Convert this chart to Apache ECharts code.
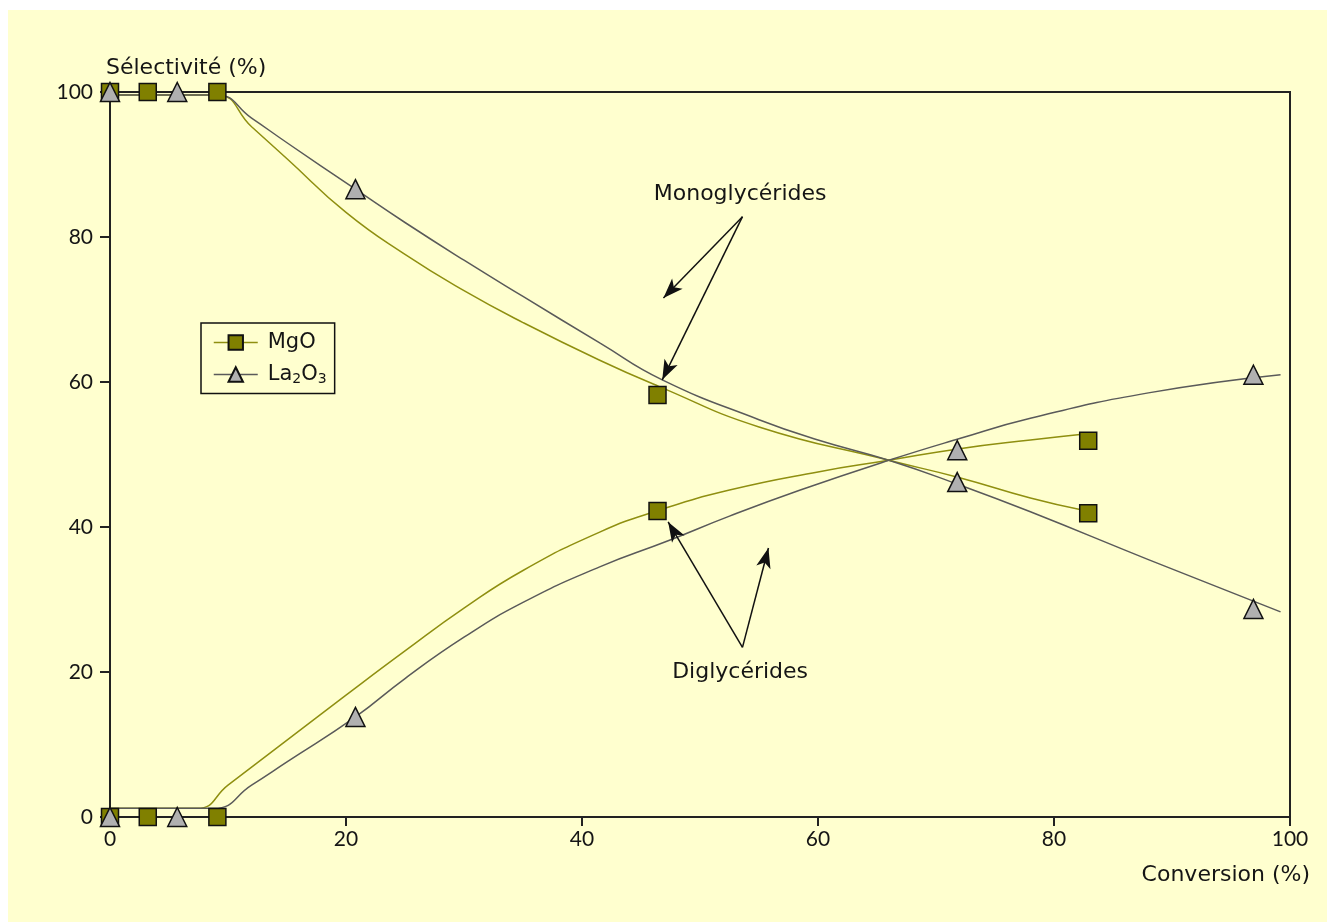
<!DOCTYPE html>
<html>
<head>
<meta charset="utf-8">
<script src="https://cdn.jsdelivr.net/npm/echarts@6/dist/echarts.min.js"></script>
<style>
  html, body { margin: 0; padding: 0; background: #fff; }
  #main { width: 1327px; height: 922px; }
</style>
</head>
<body>
<div id="main"></div>
<script>
// markers: [conversion %, selectivity %]
var mgoMono = [[0, 100], [3.2, 100], [9.1, 100], [46.4, 58.2], [82.9, 41.9]];
var mgoDi = [[0, 0], [3.2, 0], [9.1, 0], [46.4, 42.2], [82.9, 51.9]];
var laMono = [[0, 100], [5.7, 100], [20.8, 86.6], [71.8, 46.2], [96.9, 28.7]];
var laDi = [[0, 0], [5.7, 0], [20.8, 13.8], [71.8, 50.6], [96.9, 61.0]];

// fitted curves
var mgoMonoFit = [[0, 99.6], [9, 99.6], [12, 95.2], [15, 90.8], [20, 83.4], [25, 77.6], [30, 72.6], [35, 68.2], [41.5, 63.0], [46.5, 59.4], [55, 53.8], [66, 49.2], [72, 46.8], [78, 44.0], [82.5, 42.3]];
var laMonoFit = [[0, 99.6], [9, 99.6], [12, 96.4], [15, 93.0], [20.8, 86.6], [25, 82.0], [30, 76.8], [35, 71.8], [41.5, 65.4], [46.8, 60.3], [55, 54.8], [60, 52.0], [66, 49.2], [72, 45.8], [78, 42.1], [88, 35.5], [99.2, 28.3]];
var mgoDiFit = [[0, 1.2], [7.4, 1.2], [10, 4.4], [15, 10.6], [20, 16.8], [25, 22.9], [30, 28.8], [35, 34.0], [41.5, 39.3], [46.5, 42.3], [52.5, 45.1], [60, 47.6], [66, 49.2], [72, 50.8], [78, 52.0], [83, 52.9]];
var laDiFit = [[0, 1.2], [8.8, 1.2], [12, 4.4], [15, 7.6], [20.8, 13.8], [25, 19.1], [30, 24.8], [35, 29.6], [41.5, 34.5], [47.3, 38.1], [52.5, 41.5], [58.5, 45.1], [66, 49.2], [72, 52.2], [78, 55.0], [88, 58.5], [99.2, 61.0]];

// annotation arrows in data coordinates: [from, to]
var monoArrows = [[[53.6, 82.8], [46.9, 71.6]], [[53.6, 82.8], [46.8, 60.3]]];
var diArrows = [[[53.6, 23.4], [47.3, 40.7]], [[53.6, 23.4], [55.8, 37.1]]];
var noteNames = ['Monoglycérides', 'Diglycérides'];
var notePos = [[53.4, 85.9], [53.4, 20.0]];

var OLIVE = '#808000';
var OLIVE_LINE = '#8f8f10';
var GREY = '#b0b0b0';
var GREY_LINE = '#5a5a5a';
var TEXT = '#151515';
var FONT = '"DejaVu Sans", sans-serif';
var NUMFONT = 'Lato, "DejaVu Sans", sans-serif';

var chart = echarts.init(document.getElementById('main'));

function markerSeries(name, data, symbol, color, size) {
  return {
    name: name,
    type: 'line',
    data: data,
    symbol: symbol,
    symbolSize: size,
    showAllSymbol: true,
    lineStyle: { width: 0, opacity: 0 },
    itemStyle: { color: color, borderColor: '#111', borderWidth: 1.5 },
    z: 5
  };
}

function fitSeries(name, data, color) {
  return {
    name: name,
    type: 'line',
    data: data,
    smooth: 0.5,
    symbol: 'none',
    lineStyle: { color: color, width: 1.5 },
    z: 3,
    silent: true
  };
}

function arrowLines(arr) {
  return arr.map(function (a) {
    return [{ coord: a[0], symbol: 'none' }, { coord: a[1], symbol: 'arrow' }];
  });
}

var option = {
  backgroundColor: '#fff',
  animation: false,
  textStyle: { fontFamily: FONT },
  graphic: [{
    type: 'rect',
    z: -10,
    shape: { x: 8, y: 10, width: 1319, height: 912 },
    style: { fill: '#ffffcf' }
  }],
  grid: {
    left: 110, top: 92, right: 37, bottom: 105,
    show: true, borderColor: '#222', borderWidth: 2, backgroundColor: 'transparent'
  },
  legend: {
    left: 201, top: 323,
    orient: 'vertical',
    itemWidth: 44, itemHeight: 18, itemGap: 11,
    padding: [9, 8, 7, 12],
    borderColor: '#111', borderWidth: 1.5, borderRadius: 0,
    backgroundColor: 'transparent',
    data: [
      { name: 'MgO', lineStyle: { color: OLIVE_LINE, width: 1.5, opacity: 1 } },
      { name: 'La2O3', lineStyle: { color: GREY_LINE, width: 1.5, opacity: 1 } }
    ],
    formatter: function (n) { return n === 'La2O3' ? 'La{sub|2}O{sub|3}' : n; },
    textStyle: {
      fontSize: 21, color: TEXT, fontFamily: FONT, padding: [0, 0, 0, 5],
      rich: { sub: { fontSize: 14, color: TEXT, padding: [10, 0, 0, 0], fontFamily: FONT } }
    }
  },
  xAxis: {
    type: 'value', min: 0, max: 100, interval: 20,
    name: 'Conversion (%)',
    nameLocation: 'end', nameGap: 20,
    nameTextStyle: { fontSize: 22, color: TEXT, fontFamily: FONT, align: 'right', verticalAlign: 'top', padding: [47, 0, 0, 0] },
    axisLine: { show: true, onZero: false, lineStyle: { color: '#222', width: 2 } },
    axisTick: { show: true, length: 9, lineStyle: { color: '#222', width: 2 } },
    axisLabel: { fontSize: 21, color: TEXT, fontFamily: NUMFONT, margin: 12 },
    splitLine: { show: false }
  },
  yAxis: {
    type: 'value', min: 0, max: 100, interval: 20,
    name: 'Sélectivité (%)',
    nameLocation: 'end', nameGap: 13,
    nameTextStyle: { fontSize: 22, color: TEXT, fontFamily: FONT, align: 'left', padding: [0, 0, 0, -4] },
    axisLine: { show: true, onZero: false, lineStyle: { color: '#222', width: 2 } },
    axisTick: { show: true, length: 10, lineStyle: { color: '#222', width: 2 } },
    axisLabel: { fontSize: 21, color: TEXT, fontFamily: NUMFONT, margin: 17 },
    splitLine: { show: false }
  },
  series: [
    fitSeries('fit1', mgoMonoFit, OLIVE_LINE),
    fitSeries('fit2', laMonoFit, GREY_LINE),
    fitSeries('fit3', mgoDiFit, OLIVE_LINE),
    fitSeries('fit4', laDiFit, GREY_LINE),
    markerSeries('MgO', mgoMono, 'rect', OLIVE, 17),
    markerSeries('MgO', mgoDi, 'rect', OLIVE, 17),
    markerSeries('La2O3', laMono, 'triangle', GREY, 19),
    markerSeries('La2O3', laDi, 'triangle', GREY, 19),
    {
      name: 'notes',
      type: 'scatter',
      data: notePos,
      symbolSize: 1,
      silent: true,
      itemStyle: { color: 'rgba(0,0,0,0)', opacity: 1 },
      label: {
        show: true, position: 'inside', fontSize: 22, color: TEXT, fontFamily: FONT,
        opacity: 1,
        formatter: function (p) { return noteNames[p.dataIndex]; }
      },
      markLine: {
        silent: true,
        animation: false,
        symbolSize: [11, 20],
        label: { show: false },
        lineStyle: { color: '#111', width: 1.5, type: 'solid', opacity: 1 },
        data: arrowLines(monoArrows).concat(arrowLines(diArrows))
      }
    }
  ]
};

chart.setOption(option);
</script>
</body>
</html>
